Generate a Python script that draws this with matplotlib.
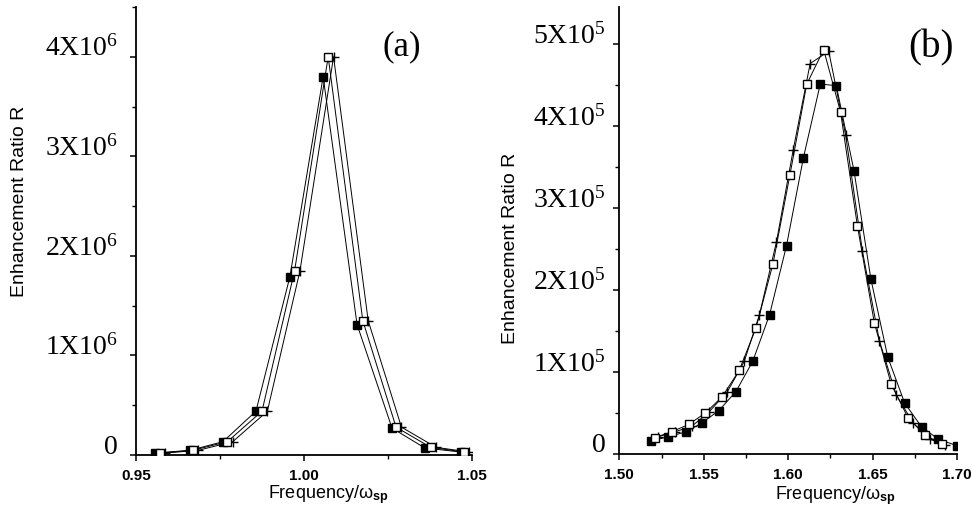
import matplotlib
matplotlib.use('Agg')
import matplotlib.pyplot as plt
import matplotlib.transforms as mtransforms

plt.rcParams['mathtext.fontset'] = 'custom'
plt.rcParams['mathtext.rm'] = 'Liberation Serif'
plt.rcParams['mathtext.it'] = 'Liberation Serif:italic'
plt.rcParams['mathtext.sf'] = 'Liberation Sans:bold'
plt.rcParams['font.family'] = ['Liberation Sans', 'DejaVu Sans']

# panel (a): R in units of 1e6
a_x_filled = [0.9557, 0.9661, 0.9759, 0.9857, 0.9958, 1.0057, 1.0158, 1.0262, 1.0360, 1.0467]
a_r_filled = [0.02, 0.047, 0.134, 0.44, 1.79, 3.80, 1.31, 0.27, 0.07, 0.03]
a_x_open = [0.9571, 0.9669, 0.9772, 0.9875, 0.9972, 1.0072, 1.0175, 1.0274, 1.0377, 1.0476]
a_r_open = [0.02, 0.047, 0.134, 0.44, 1.85, 4.00, 1.35, 0.28, 0.077, 0.03]
a_x_plus = [0.9587, 0.9685, 0.9788, 0.9891, 0.9988, 1.0088, 1.0191, 1.0290, 1.0393, 1.0492]
a_r_plus = [0.02, 0.047, 0.134, 0.44, 1.85, 4.00, 1.35, 0.28, 0.077, 0.03]
a_yticks = [0, 1, 2, 3, 4]
a_ylabels = ['0', '1X10$^6$', '2X10$^6$', '3X10$^6$', '4X10$^6$']
a_xticks = [0.95, 1.00, 1.05]
a_xlabels = ['0.95', '1.00', '1.05']

# panel (b): R in units of 1e5
b_x_filled = [1.519, 1.529, 1.5395, 1.549, 1.559, 1.569, 1.579, 1.589, 1.599, 1.609,
              1.619, 1.6285, 1.639, 1.649, 1.659, 1.669, 1.679, 1.689, 1.700]
b_r_filled = [0.16, 0.21, 0.27, 0.38, 0.53, 0.76, 1.13, 1.70, 2.54, 3.61,
              4.51, 4.49, 3.45, 2.13, 1.18, 0.62, 0.33, 0.18, 0.10]
b_x_open = [1.521, 1.531, 1.541, 1.551, 1.561, 1.571, 1.581, 1.591, 1.601, 1.611,
            1.621, 1.631, 1.641, 1.651, 1.661, 1.671, 1.681, 1.691]
b_r_open = [0.20, 0.27, 0.36, 0.50, 0.70, 1.02, 1.54, 2.32, 3.40, 4.51,
            4.93, 4.17, 2.78, 1.60, 0.85, 0.44, 0.23, 0.12]
b_x_plus = [1.523, 1.533, 1.543, 1.553, 1.564, 1.574, 1.583, 1.593, 1.603, 1.613,
            1.624, 1.634, 1.644, 1.654, 1.664, 1.674, 1.684, 1.693]
b_r_plus = [0.21, 0.27, 0.34, 0.51, 0.76, 1.13, 1.70, 2.58, 3.71, 4.76,
            4.91, 3.89, 2.47, 1.38, 0.72, 0.38, 0.18, 0.11]
b_yticks = [0, 1, 2, 3, 4, 5]
b_ylabels = ['0', '1X10$^5$', '2X10$^5$', '3X10$^5$', '4X10$^5$', '5X10$^5$']
b_xticks = [1.50, 1.55, 1.60, 1.65, 1.70]
b_xlabels = ['1.50', '1.55', '1.60', '1.65', '1.70']


def style_axes(fig, ax, xticks, xlabels, xminor, yticks, ylabels, yminor, ypad):
    for s in ['top', 'right']:
        ax.spines[s].set_visible(False)
    for s in ['left', 'bottom']:
        ax.spines[s].set_linewidth(1.3)
    ax.set_xticks(xticks, xlabels)
    ax.set_xticks(xminor, minor=True)
    ax.set_yticks(yticks, ylabels)
    ax.set_yticks(yminor, minor=True)
    ax.tick_params(which='major', direction='out', length=4, width=1.1)
    ax.tick_params(which='minor', direction='out', length=3, width=1.0)
    ax.tick_params(axis='x', pad=6, labelsize=11)
    ax.tick_params(axis='y', pad=ypad, labelsize=20)
    for lbl in ax.get_xticklabels():
        lbl.set_fontweight('bold')
    shift = mtransforms.ScaledTranslation(0, 0.08, fig.dpi_scale_trans)
    for lbl in ax.get_yticklabels():
        lbl.set_fontfamily('Liberation Serif')
        lbl.set_va('center')
        lbl.set_transform(lbl.get_transform() + shift)


fig = plt.figure(figsize=(9.72, 5.18), dpi=100)
ax1 = fig.add_axes([0.1399, 0.1216, 0.3457, 0.8649])
ax2 = fig.add_axes([0.6372, 0.1236, 0.3474, 0.8630])

# (a)
ax1.plot(a_x_plus, a_r_plus, color='black', lw=0.7, marker='+', ms=7, mew=1.0, zorder=2)
ax1.plot(a_x_filled, a_r_filled, color='black', lw=0.7, marker='s', ms=6, mfc='black', mec='black', zorder=3)
ax1.plot(a_x_open, a_r_open, color='black', lw=0.7, marker='s', ms=6, mfc='white', mec='black', mew=1.0, zorder=4)
ax1.set_xlim(0.95, 1.05)
ax1.set_ylim(0, 4.5)
style_axes(fig, ax1, a_xticks, a_xlabels, [0.975, 1.025],
           a_yticks, a_ylabels, [0.5, 1.5, 2.5, 3.5, 4.5], 9)
ax1.set_xlabel('Frequency/ω$_{\\mathsf{sp}}$', fontsize=13)
ax1.xaxis.label.set_va('center')
ax1.xaxis.set_label_coords(0.571, -0.089)
ax1.set_ylabel('Enhancement Ratio R', fontsize=14)
ax1.yaxis.label.set_va('center')
ax1.yaxis.set_label_coords(-0.348, 0.567)
ax1.text(0.79, 0.911, '(a)', transform=ax1.transAxes, fontsize=25,
         family='Liberation Serif', ha='center', va='center')

# (b)
ax2.plot(b_x_filled, b_r_filled, color='black', lw=0.7, marker='s', ms=5.5, mfc='black', mec='black', zorder=3)
ax2.plot(b_x_plus, b_r_plus, color='black', lw=0.7, marker='+', ms=7, mew=1.0, zorder=2)
ax2.plot(b_x_open, b_r_open, color='black', lw=0.7, marker='s', ms=5.5, mfc='white', mec='black', mew=1.0, zorder=4)
ax2.set_xlim(1.50, 1.70)
ax2.set_ylim(0, 5.45)
style_axes(fig, ax2, b_xticks, b_xlabels, [1.525, 1.575, 1.625, 1.675],
           b_yticks, b_ylabels, [0.5, 1.5, 2.5, 3.5, 4.5], 6)
ax2.set_xlabel('Frequency/ω$_{\\mathsf{sp}}$', fontsize=13)
ax2.xaxis.label.set_va('center')
ax2.xaxis.set_label_coords(0.64, -0.094)
ax2.set_ylabel('Enhancement Ratio R', fontsize=14)
ax2.yaxis.label.set_va('center')
ax2.yaxis.set_label_coords(-0.322, 0.459)
ax2.text(0.923, 0.908, '(b)', transform=ax2.transAxes, fontsize=28,
         family='Liberation Serif', ha='center', va='center')

fig.savefig('out.png', dpi=100)
